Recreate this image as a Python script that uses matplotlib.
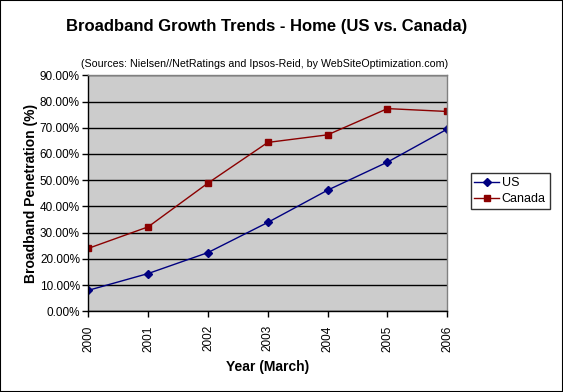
import matplotlib
matplotlib.use("Agg")
import matplotlib.pyplot as plt
from matplotlib.patches import Rectangle
from matplotlib.ticker import FuncFormatter, MultipleLocator

plt.rcParams['font.family'] = ['Liberation Sans', 'DejaVu Sans']

years = ['2000', '2001', '2002', '2003', '2004', '2005', '2006']
us = [8.0, 14.4, 22.4, 33.9, 46.2, 56.9, 69.5]
canada = [24.0, 32.2, 48.9, 64.4, 67.3, 77.3, 76.2]

W, H = 563, 392
fig = plt.figure(figsize=(W / 100, H / 100), dpi=100)
fig.patch.set_facecolor('white')

L, R, T, B = 88.3, 447.3, 75.3, 311.3
ax = fig.add_axes([L / W, 1 - B / H, (R - L) / W, (B - T) / H])
ax.set_facecolor('#CCCCCC')

x = list(range(len(years)))
ax.plot(x, us, color='#000080', marker='D', markersize=4.5, linewidth=1, label='US')
ax.plot(x, canada, color='#8B0000', marker='s', markersize=5, linewidth=1, label='Canada')

ax.set_xlim(0, len(years) - 1)
ax.set_ylim(0, 90)
ax.yaxis.set_major_locator(MultipleLocator(10))
ax.yaxis.set_major_formatter(FuncFormatter(lambda v, p: f"{v:.2f}%"))
ax.set_xticks(x)
ax.set_xticklabels(years, rotation=90, fontsize=8.5)
ax.tick_params(axis='y', labelsize=8.5, length=4, width=1, color='black', pad=2)
ax.tick_params(axis='x', length=4, width=1, color='black', pad=6)
ax.grid(axis='y', color='black', linewidth=1)
ax.set_axisbelow(True)

for s in ['top', 'right']:
    ax.spines[s].set_color('#808080')
    ax.spines[s].set_linewidth(1)
for s in ['left', 'bottom']:
    ax.spines[s].set_color('black')
    ax.spines[s].set_linewidth(1)

ax.set_ylabel('Broadband Penetration (%)', fontsize=10, fontweight='bold', labelpad=1)
ax.set_xlabel('Year (March)', fontsize=10, fontweight='bold', labelpad=6)

fig.text(267 / W, 1 - 27 / H, 'Broadband Growth Trends - Home (US vs. Canada)',
         ha='center', va='center', fontsize=12, fontweight='bold')
fig.text(265 / W, 1 - 64 / H,
         '(Sources: Nielsen//NetRatings and Ipsos-Reid, by WebSiteOptimization.com)',
         ha='center', va='center', fontsize=7.7)

leg = fig.legend(loc='center', bbox_to_anchor=(510 / W, 1 - 191 / H), fontsize=9,
                 frameon=True, fancybox=False, edgecolor='black', handlelength=2.0,
                 borderpad=0.3, labelspacing=0.3, handletextpad=0.2, borderaxespad=0)
leg.get_frame().set_linewidth(1)

fig.patches.append(Rectangle((0, 0), 1, 1, transform=fig.transFigure, fill=False,
                             edgecolor='black', linewidth=1.5))

fig.savefig('out.png', dpi=100)
